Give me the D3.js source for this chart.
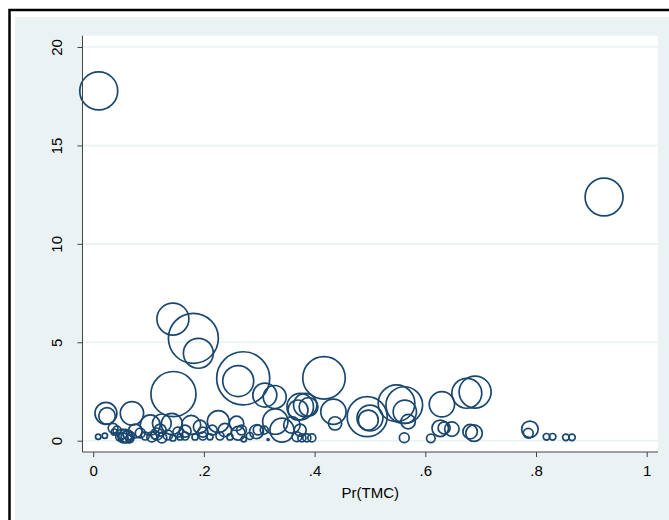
<!DOCTYPE html>
<html>
<head>
<meta charset="utf-8">
<script src="https://cdn.jsdelivr.net/npm/d3@7"></script>
<style>
  body { margin: 0; background: #fff; }
  svg { display: block; font-family: "Liberation Sans", Arial, sans-serif; }
</style>
</head>
<body>
<div id="chart"></div>
<script>
// Pr(TMC) on x, outcome on y, bubble weight (area)
var prTMC = [
  0.010, 0.923, 0.144, 0.181, 0.190, 0.145, 0.271, 0.262, 0.417, 0.310,
  0.328, 0.495, 0.497, 0.500, 0.548, 0.562, 0.563, 0.569, 0.562, 0.630,
  0.675, 0.690, 0.627, 0.634, 0.648, 0.681, 0.688, 0.610, 0.789, 0.786,
  0.819, 0.830, 0.854, 0.865, 0.434, 0.437, 0.374, 0.383, 0.389, 0.370,
  0.329, 0.341, 0.359, 0.368, 0.377, 0.386, 0.395, 0.374, 0.298, 0.309,
  0.316, 0.226, 0.238, 0.259, 0.268, 0.272, 0.193, 0.177, 0.211, 0.103,
  0.124, 0.142, 0.023, 0.025, 0.070, 0.036, 0.058, 0.052, 0.063, 0.009,
  0.021, 0.048, 0.068, 0.085, 0.094, 0.112, 0.135, 0.144, 0.157, 0.166,
  0.184, 0.198, 0.229, 0.247, 0.283, 0.295, 0.262, 0.038, 0.076, 0.121,
  0.054, 0.061, 0.066, 0.106, 0.115, 0.124, 0.153, 0.166, 0.198, 0.215,
  0.043
];
var outcome = [
  17.77, 12.38, 6.18, 5.20, 4.44, 2.37, 3.17, 3.03, 3.19, 2.32,
  2.22, 1.22, 1.05, 1.15, 1.90, 1.81, 1.47, 0.97, 0.15, 1.85,
  2.41, 2.47, 0.63, 0.65, 0.59, 0.46, 0.38, 0.12, 0.58, 0.38,
  0.20, 0.20, 0.17, 0.17, 1.47, 0.88, 1.73, 1.81, 1.71, 1.56,
  0.97, 0.54, 0.80, 0.20, 0.14, 0.14, 0.14, 0.54, 0.54, 0.54,
  0.06, 0.97, 0.54, 0.88, 0.54, 0.07, 0.71, 0.80, 0.20, 0.80,
  0.88, 0.85, 1.39, 1.26, 1.39, 0.63, 0.24, 0.34, 0.29, 0.20,
  0.25, 0.19, 0.24, 0.39, 0.24, 0.29, 0.29, 0.14, 0.19, 0.24,
  0.19, 0.24, 0.24, 0.19, 0.24, 0.46, 0.38, 0.44, 0.49, 0.54,
  0.14, 0.19, 0.09, 0.19, 0.34, 0.14, 0.44, 0.49, 0.44, 0.54,
  0.54
];
var weight = [
  90, 90, 64, 156, 56, 127, 176, 60, 113, 36,
  33, 100, 25, 42, 84, 84, 34, 13, 6, 40,
  56, 64, 17, 9, 13, 13, 17, 4.6, 17, 6,
  2.7, 2.7, 2.7, 2.7, 40, 11, 44, 34, 22, 25,
  40, 36, 17, 6, 4, 4, 4, 9, 6, 4,
  0.25, 30, 11, 13, 6, 1.8, 11, 22.6, 2.3, 25,
  22, 28, 30, 17, 34, 6, 11, 6, 6, 1.8,
  1.8, 4, 4, 6, 4, 4, 6, 2.3, 2.3, 4,
  2.3, 4, 4, 2.3, 3, 12, 12, 2.3, 12, 9,
  6.25, 9, 4, 6.25, 9, 6.25, 6.25, 9, 6.25, 6.25,
  4
];
var xTicks = [0, 0.2, 0.4, 0.6, 0.8, 1];
var xTickLabels = ["0", ".2", ".4", ".6", ".8", "1"];
var yTicks = [0, 5, 10, 15, 20];
var xTitle = "Pr(TMC)";

var width = 669, height = 520;
var plot = {left: 82.5, right: 658, top: 35.7, bottom: 452};

var svg = d3.select("#chart").append("svg")
    .attr("width", width)
    .attr("height", height);

// graph region background + frame
svg.append("rect")
    .attr("x", 15).attr("y", 17)
    .attr("width", width).attr("height", height)
    .attr("fill", "#eaf2f3");
svg.append("rect")
    .attr("x", 9.5).attr("y", 10)
    .attr("width", width + 20).attr("height", height + 20)
    .attr("fill", "none")
    .attr("stroke", "#000")
    .attr("stroke-width", 2.5);

// plot region
svg.append("rect")
    .attr("x", plot.left).attr("y", plot.top)
    .attr("width", plot.right - plot.left)
    .attr("height", plot.bottom - plot.top)
    .attr("fill", "#fff");

var x = d3.scaleLinear().domain([0, 1]).range([93.2, 646.7]);
var y = d3.scaleLinear().domain([0, 20]).range([440.7, 47]);
var r = d3.scaleSqrt().domain([0, 100]).range([0, 20]);

// gridlines
svg.append("g")
    .selectAll("line")
    .data(yTicks)
    .join("line")
    .attr("x1", plot.left).attr("x2", plot.right)
    .attr("y1", d => y(d)).attr("y2", d => y(d))
    .attr("stroke", "#eaf2f3")
    .attr("stroke-width", 1.6);

// bubbles
var pts = prTMC.map((d, i) => ({x: d, y: outcome[i], w: weight[i]}));
svg.append("g")
    .selectAll("circle")
    .data(pts)
    .join("circle")
    .attr("cx", d => x(d.x))
    .attr("cy", d => y(d.y))
    .attr("r", d => Math.max(r(d.w), 1))
    .attr("fill", "none")
    .attr("stroke", "#1a476f")
    .attr("stroke-width", 1.7);

// axes
var xAxis = d3.axisBottom(x)
    .tickValues(xTicks)
    .tickFormat((d, i) => xTickLabels[i])
    .tickSize(5)
    .tickPadding(8);
var gx = svg.append("g")
    .attr("transform", "translate(0," + plot.bottom + ")")
    .call(xAxis);
gx.select(".domain").attr("d", "M" + plot.left + ",0H" + plot.right);

var yAxis = d3.axisLeft(y)
    .tickValues(yTicks)
    .tickSize(5)
    .tickFormat(d3.format("d"));
var gy = svg.append("g")
    .attr("transform", "translate(" + plot.left + ",0)")
    .call(yAxis);
gy.select(".domain").attr("d", "M0," + plot.top + "V" + plot.bottom);
gy.selectAll(".tick text")
    .attr("x", null).attr("dy", null)
    .attr("text-anchor", "middle")
    .attr("transform", "translate(-21,0) rotate(-90)");

svg.selectAll(".domain, .tick line").attr("stroke", "#444").attr("stroke-width", 1);
svg.selectAll(".tick text")
    .attr("fill", "#000")
    .style("font-size", "15px")
    .style("font-family", "'Liberation Sans', Arial, sans-serif");

svg.append("text")
    .attr("x", (plot.left + plot.right) / 2)
    .attr("y", 498)
    .attr("text-anchor", "middle")
    .style("font-size", "15px")
    .text(xTitle);
</script>
</body>
</html>
